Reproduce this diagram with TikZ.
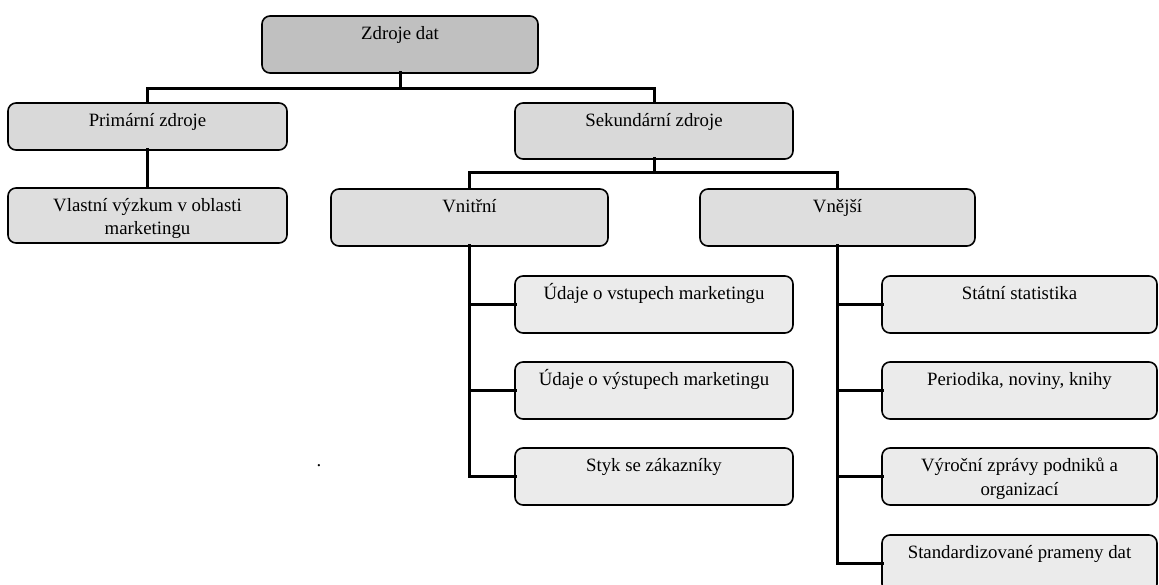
\documentclass[tikz,border=0pt]{standalone}
\usepackage{fontspec}
\setmainfont{Liberation Serif}
\usetikzlibrary{calc}
\definecolor{topgray}{HTML}{C0C0C0}
\definecolor{midgray}{HTML}{D9D9D9}
\definecolor{lowgray}{HTML}{DEDEDE}
\definecolor{leafgray}{HTML}{EBEBEB}
\tikzset{
  box/.style={draw=black, line width=1.6pt, rounded corners=8pt, inner sep=0pt, outer sep=0pt},
  txt/.style={font=\fontsize{18.8}{23.5}\selectfont, inner sep=0pt, align=center, anchor=base},
  conn/.style={draw=black, line width=3pt, line join=miter, line cap=rect}
}
\newcommand\mybox[6]{%
  \node[box, fill=#2, anchor=north west, minimum width={#5pt-#3pt}, minimum height={#6pt-#4pt}] (#1) at (#3,#4) {};}
\newcommand\mytext[3][23.5]{%
  \node[txt] (#2-t) at ([yshift=-#1pt]#2.north) {#3};}
\begin{document}
\begin{tikzpicture}[x=1pt,y=-1pt]
\useasboundingbox (0,0) rectangle (1159,585);
\begin{scope}
\clip (0,0) rectangle (1159,585);
\mybox{z}{topgray}{262}{16}{538}{73}
\mybox{p}{midgray}{8}{103}{287}{150}
\mybox{s}{midgray}{515}{103}{793}{159}
\mybox{v}{lowgray}{8}{188}{287}{243}
\mybox{vn}{lowgray}{331}{189}{608}{246}
\mybox{ve}{lowgray}{700}{189}{975}{246}
\mybox{a1}{leafgray}{515}{276}{793}{333}
\mybox{a2}{leafgray}{515}{362}{793}{419}
\mybox{a3}{leafgray}{515}{448}{793}{505}
\mybox{b1}{leafgray}{882}{276}{1157}{333}
\mybox{b2}{leafgray}{882}{362}{1157}{419}
\mybox{b3}{leafgray}{882}{448}{1157}{505}
\mybox{b4}{leafgray}{882}{535}{1157}{592}
% connectors
\coordinate (j1) at (z.south |- 0,89);
\coordinate (j2) at (s.south |- 0,173);
\draw[conn] (z.south) -- (j1);
\draw[conn] (p.north) |- (j1) -| (s.north);
\draw[conn] (p.south) -- (v.north);
\draw[conn] (s.south) -- (j2);
\draw[conn] (vn.north) |- (j2) -| (ve.north);
\draw[conn] (vn.south) |- (a3.west);
\draw[conn] (vn.south |- a1.west) -- (a1.west);
\draw[conn] (vn.south |- a2.west) -- (a2.west);
\draw[conn] (ve.south) |- (b4.west);
\draw[conn] (ve.south |- b1.west) -- (b1.west);
\draw[conn] (ve.south |- b2.west) -- (b2.west);
\draw[conn] (ve.south |- b3.west) -- (b3.west);
% texts
\mytext{z}{Zdroje dat}
\mytext{p}{Primární zdroje}
\mytext{s}{Sekundární zdroje}
\mytext[47]{v}{Vlastní výzkum v oblasti\\marketingu}
\mytext{vn}{Vnitřní}
\mytext{ve}{Vnější}
\mytext{a1}{Údaje o vstupech marketingu}
\mytext{a2}{Údaje o výstupech marketingu}
\mytext{a3}{Styk se zákazníky}
\mytext{b1}{Státní statistika}
\mytext{b2}{Periodika, noviny, knihy}
\mytext[47]{b3}{Výroční zprávy podniků a\\organizací}
\mytext{b4}{Standardizované prameny dat}
\node[txt] (dot) at (319,466) {.};
\end{scope}
\end{tikzpicture}
\end{document}
